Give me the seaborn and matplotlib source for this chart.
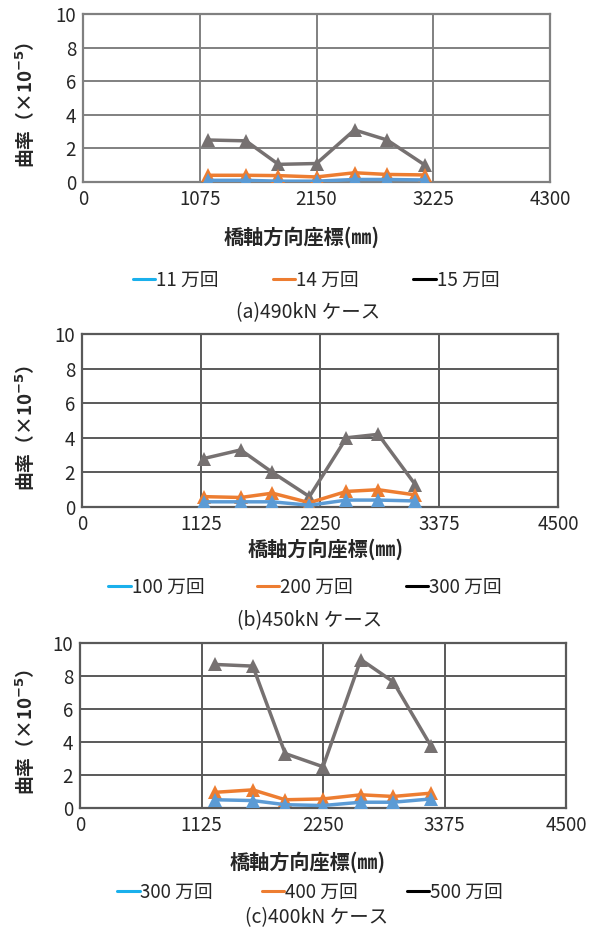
import matplotlib
matplotlib.use("Agg")
import matplotlib.pyplot as plt
from matplotlib.lines import Line2D
import seaborn as sns
import pandas as pd

# ---- data -------------------------------------------------------------
x_a = [1150, 1500, 1800, 2150, 2500, 2800, 3150]
a_11 = [0.10, 0.10, 0.05, 0.05, 0.15, 0.15, 0.12]
a_14 = [0.40, 0.40, 0.38, 0.30, 0.55, 0.45, 0.42]
a_15 = [2.50, 2.45, 1.05, 1.10, 3.10, 2.50, 1.00]

x_b = [1150, 1500, 1800, 2150, 2500, 2800, 3150]
b_100 = [0.30, 0.30, 0.30, 0.10, 0.40, 0.40, 0.35]
b_200 = [0.60, 0.55, 0.80, 0.25, 0.90, 1.00, 0.70]
b_300 = [2.80, 3.30, 2.00, 0.60, 4.00, 4.20, 1.30]

x_c = [1250, 1600, 1900, 2250, 2600, 2900, 3250]
c_300 = [0.50, 0.45, 0.20, 0.15, 0.35, 0.35, 0.55]
c_400 = [0.95, 1.10, 0.50, 0.55, 0.80, 0.70, 0.90]
c_500 = [8.70, 8.60, 3.30, 2.50, 9.00, 7.65, 3.75]

labels_a = ["11 万回", "14 万回", "15 万回"]
labels_b = ["100 万回", "200 万回", "300 万回"]
labels_c = ["300 万回", "400 万回", "500 万回"]

xticks_a = [0, 1075, 2150, 3225, 4300]
xticks_bc = [0, 1125, 2250, 3375, 4500]
yticks = [0, 2, 4, 6, 8, 10]

captions = ["(a)490kN ケース", "(b)450kN ケース", "(c)400kN ケース"]
xlabel = "橋軸方向座標(㎜)"
ylabel = r"曲率（×10$^{\mathbf{-5}}$）"

# ---- style ------------------------------------------------------------
sns.set_style("white")
plt.rcParams["font.family"] = ["Noto Sans CJK JP", "DejaVu Sans"]
FS = 13.5
FS_XL = 14.5
FS_CAP = 14

LINE_COLORS = ["#5B9BD5", "#ED7D31", "#767171"]
LEG_COLORS = ["#1AB0EC", "#ED7D31", "#000000"]

W, H = 597, 930
fig = plt.figure(figsize=(W / 100, H / 100), dpi=100)


def add_axes(left, right, top, bottom):
    return fig.add_axes([left / W, 1 - bottom / H, (right - left) / W, (bottom - top) / H])


panels = [
    dict(box=(83, 550, 14, 182), x=x_a, ys=[a_11, a_14, a_15], labels=labels_a,
         xticks=xticks_a, grid="#808080", xl=(302, 237), leg=(316, 280), cap=(308, 313),
         colsp=2.9),
    dict(box=(82, 558, 334, 507), x=x_b, ys=[b_100, b_200, b_300], labels=labels_b,
         xticks=xticks_bc, grid="#595959", xl=(326, 549), leg=(305, 587), cap=(310, 621),
         colsp=2.8),
    dict(box=(80, 566, 643, 808), x=x_c, ys=[c_300, c_400, c_500], labels=labels_c,
         xticks=xticks_bc, grid="#595959", xl=(308, 862), leg=(310, 892), cap=(317, 918),
         colsp=2.6),
]

for i, p in enumerate(panels):
    left, right, top, bottom = p["box"]
    ax = add_axes(left, right, top, bottom)
    frames = []
    for lab, y in zip(p["labels"], p["ys"]):
        frames.append(pd.DataFrame({"x": p["x"], "y": y, "series": lab}))
    df = pd.concat(frames, ignore_index=True)

    # draw the top series first so the lower ones sit above it
    for j in [2, 1, 0]:
        sub = df[df["series"] == p["labels"][j]]
        sns.lineplot(data=sub, x="x", y="y", ax=ax, color=LINE_COLORS[j],
                     linewidth=2.5, marker="^", markersize=10.5, markeredgewidth=0,
                     legend=False, zorder=3 + (2 - j))

    ax.set_xlim(p["xticks"][0], p["xticks"][-1])
    ax.set_ylim(0, 10)
    ax.set_xticks(p["xticks"])
    ax.set_yticks(yticks)
    ax.set_xticklabels([str(t) for t in p["xticks"]], fontsize=FS)
    ax.set_yticklabels([str(t) for t in yticks], fontsize=FS)
    ax.tick_params(length=0, pad=5)
    ax.grid(True, color=p["grid"], linewidth=1.4)
    ax.set_axisbelow(True)
    for s in ax.spines.values():
        s.set_color(p["grid"])
        s.set_linewidth(1.6)

    ax.set_xlabel(xlabel, fontsize=FS_XL, fontweight="bold", va="center")
    ax.xaxis.set_label_coords((p["xl"][0] - left) / (right - left),
                              (bottom - p["xl"][1]) / (bottom - top))
    ax.set_ylabel(ylabel, fontsize=FS, fontweight="bold", va="center")
    ax.yaxis.set_label_coords((25 - left) / (right - left), 0.46)

    handles = [Line2D([], [], color=c, linewidth=2.2) for c in LEG_COLORS]
    fig.legend(handles, p["labels"], loc="center", ncol=3, frameon=False,
               bbox_to_anchor=(p["leg"][0] / W, 1 - p["leg"][1] / H),
               fontsize=FS, handlelength=1.2, handletextpad=0.05,
               columnspacing=p["colsp"], borderaxespad=0)

    fig.text(p["cap"][0] / W, 1 - p["cap"][1] / H, captions[i], ha="center",
             va="center", fontsize=FS_CAP)

fig.savefig("out.png", dpi=100)
